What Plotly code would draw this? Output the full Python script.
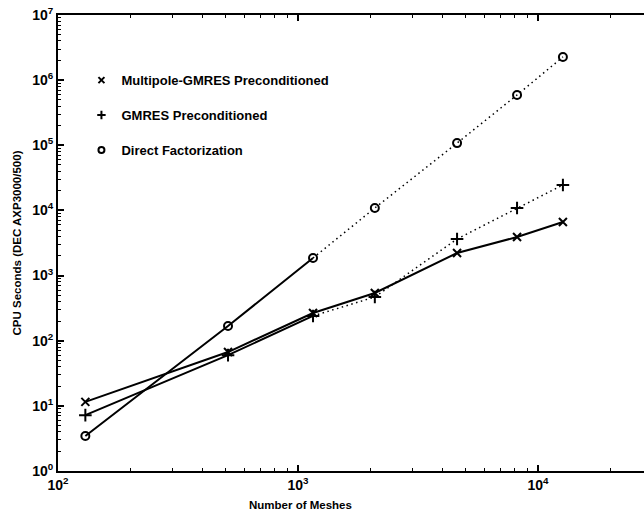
import plotly.graph_objects as go

# Mesh counts and CPU times (seconds, DEC AXP3000/500)
meshes = [130, 511, 1155, 2090, 4600, 8180, 12700]
multipole_gmres = [11.5, 67, 266, 540, 2220, 3910, 6650]
gmres = [7.2, 60, 240, 469, 3645, 10900, 24600]
direct = [3.45, 168, 1860, 10900, 108000, 592000, 2270000]

# leading points joined by a solid line; the remainder is dotted
solid_points = 3

series_names = ["Multipole-GMRES Preconditioned", "GMRES Preconditioned", "Direct Factorization"]

x_decades = [2, 3, 4]
y_decades = [0, 1, 2, 3, 4, 5, 6, 7]

BLACK = "black"
DOT = "1.5px,3.5px"
FONT = "Liberation Sans, Arial, sans-serif"


def marker(symbol, size):
    return dict(symbol=symbol, size=size, color=BLACK, line=dict(width=2, color=BLACK))


x_mark = marker("x-thin-open", 8)
p_mark = marker("cross-thin-open", 9)
o_mark = marker("circle-open", 8)

fig = go.Figure()

# Multipole-GMRES: solid throughout
fig.add_trace(go.Scatter(x=meshes, y=multipole_gmres, mode="lines+markers",
                         line=dict(color=BLACK, width=2), marker=x_mark, showlegend=False))

# GMRES and direct factorization: solid first, then dotted
for values, mk in [(gmres, p_mark), (direct, o_mark)]:
    fig.add_trace(go.Scatter(x=meshes[:solid_points], y=values[:solid_points], mode="lines",
                             line=dict(color=BLACK, width=2), showlegend=False))
    fig.add_trace(go.Scatter(x=meshes[solid_points - 1:], y=values[solid_points - 1:], mode="lines",
                             line=dict(color=BLACK, width=1.5, dash=DOT), showlegend=False))
    fig.add_trace(go.Scatter(x=meshes, y=values, mode="markers", marker=mk, showlegend=False))

# Legend entries (markers only)
for i, (name, sym) in enumerate(zip(series_names, ["x-thin-open", "cross-thin-open", "circle-open"])):
    fig.add_trace(go.Scatter(x=[None], y=[None], mode="markers", marker=marker(sym, 6), name=name,
                             legendgroup=f"g{i}", showlegend=True))


def log_axis(decades):
    return dict(
        type="log",
        range=None,
        showgrid=False,
        zeroline=False,
        showline=True,
        linecolor=BLACK,
        linewidth=2,
        ticks="inside",
        ticklen=6,
        tickwidth=1.5,
        tickcolor=BLACK,
        tickmode="array",
        tickvals=[10 ** d for d in decades],
        ticktext=[f"10<sup>{d}</sup>" for d in decades],
        tickfont=dict(family=FONT, size=14, color=BLACK, weight="bold"),
        minor=dict(ticks="inside", ticklen=3, tickwidth=1, tickcolor=BLACK,
                   tickvals=[m * 10 ** d for d in decades[:-1] + [decades[-1]] for m in range(2, 10)]),
    )


xaxis = log_axis(x_decades)
xaxis.update(range=[2, 4.4417], mirror="ticks")
yaxis = log_axis(y_decades)
yaxis.update(range=[0, 7], mirror=False,
             title=dict(text="CPU Seconds (DEC AXP3000/500)", standoff=8,
                        font=dict(family=FONT, size=11.5, color=BLACK, weight="bold")))

fig.update_layout(
    width=644, height=516,
    margin=dict(l=58, r=0, t=15, b=45),
    paper_bgcolor="white",
    plot_bgcolor="white",
    font=dict(family=FONT, color=BLACK),
    xaxis=xaxis,
    yaxis=yaxis,
    legend=dict(x=0.04, y=0.89, xanchor="left", yanchor="top",
                bgcolor="rgba(0,0,0,0)", borderwidth=0,
                traceorder="grouped", tracegroupgap=15,
                font=dict(family=FONT, size=13, color=BLACK, weight="bold")),
    annotations=[dict(text="Number of Meshes", xref="paper", yref="paper",
                      x=0.413, y=-0.0746, xanchor="center", yanchor="middle", showarrow=False,
                      font=dict(family=FONT, size=11.5, color=BLACK, weight="bold"))],
)

fig.write_html("out.html")
